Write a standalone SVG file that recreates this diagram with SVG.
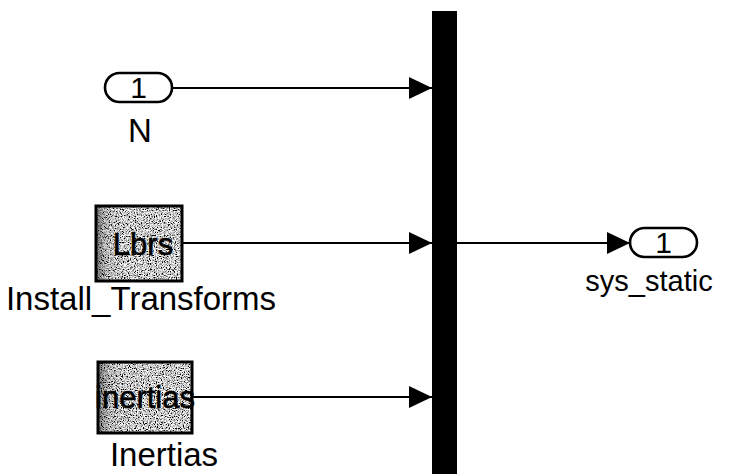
<svg xmlns="http://www.w3.org/2000/svg" width="740" height="474" viewBox="0 0 740 474">
  <defs>
    <style>
      .txt { font-family: "Liberation Sans", Arial, Helvetica, sans-serif; fill: #000; }
      .lbl { font-size: 33px; text-anchor: middle; }
      .out { font-size: 29px; text-anchor: middle; }
      .num { font-size: 30px; text-anchor: middle; }
      .blk { font-size: 31px; text-anchor: middle; stroke: #000; stroke-width: 0.6; }
      .port { fill: #fff; stroke: #000; stroke-width: 2.6; }
      .grain { fill: #fff; filter: url(#grain); }
      .shade { fill: url(#edge); }
      .frame { fill: none; stroke: #000; stroke-width: 3; }
      .wire { fill: none; stroke: #000; stroke-width: 2; }
    </style>
    <marker id="arrow" viewBox="0 0 23 22" refX="23" refY="11" markerWidth="23" markerHeight="22" markerUnits="userSpaceOnUse" orient="auto">
      <path d="M0,0 L23,11 L0,22 Z" fill="#000"/>
    </marker>
    <!-- speckled grey texture for the constant blocks -->
    <filter id="grain" x="0" y="0" width="100%" height="100%">
      <feTurbulence type="fractalNoise" baseFrequency="0.85" numOctaves="2" seed="5" result="n"/>
      <feColorMatrix in="n" type="matrix" values="3 0 0 0 -0.92  3 0 0 0 -0.92  3 0 0 0 -0.92  0 0 0 0 1" result="g"/>
      <feComposite in="g" in2="SourceGraphic" operator="in"/>
    </filter>
    <!-- darker band along the left side of the constant blocks -->
    <linearGradient id="edge" x1="0" y1="0" x2="1" y2="0">
      <stop offset="0" stop-color="#000" stop-opacity="0.45"/>
      <stop offset="0.12" stop-color="#000" stop-opacity="0.1"/>
      <stop offset="0.3" stop-color="#000" stop-opacity="0"/>
    </linearGradient>
  </defs>

  <rect width="740" height="474" fill="#fff"/>

  <!-- connectors -->
  <g id="connectors">
    <line class="wire" x1="172" y1="88" x2="432" y2="88" marker-end="url(#arrow)"/>
    <line class="wire" x1="183" y1="243" x2="432" y2="243" marker-end="url(#arrow)"/>
    <line class="wire" x1="193" y1="397" x2="432" y2="397" marker-end="url(#arrow)"/>
    <line class="wire" x1="457" y1="243" x2="630" y2="243" marker-end="url(#arrow)"/>
  </g>

  <!-- inport 1 : N -->
  <g id="inport_N">
    <rect class="port" x="105" y="73" width="67" height="29" rx="14.5" ry="14.5"/>
    <text class="txt num" x="138.5" y="98">1</text>
    <text class="txt lbl" x="140" y="142">N</text>
  </g>

  <!-- constant : Lbrs -->
  <g id="const_Lbrs">
    <rect class="grain" x="96" y="206" width="86" height="75"/>
    <rect class="shade" x="96" y="206" width="86" height="75"/>
    <rect class="frame" x="96" y="206" width="86" height="75"/>
    <text class="txt blk" x="143" y="255">Lbrs</text>
    <text class="txt lbl" x="141" y="310">Install_Transforms</text>
  </g>

  <!-- constant : inertias -->
  <g id="const_Inertias">
    <rect class="grain" x="98" y="362" width="94" height="71"/>
    <rect class="shade" x="98" y="362" width="94" height="71"/>
    <rect class="frame" x="98" y="362" width="94" height="71"/>
    <text class="txt blk" x="145" y="408">inertias</text>
    <text class="txt lbl" x="164" y="466">Inertias</text>
  </g>

  <!-- bus creator -->
  <g id="bus">
    <rect x="432" y="11" width="25" height="463" fill="#000"/>
  </g>

  <!-- outport 1 : sys_static -->
  <g id="outport_sys_static">
    <rect class="port" x="630" y="228" width="67" height="29" rx="14.5" ry="14.5"/>
    <text class="txt num" x="663.5" y="253">1</text>
    <text class="txt out" x="649" y="291">sys_static</text>
  </g>
</svg>
